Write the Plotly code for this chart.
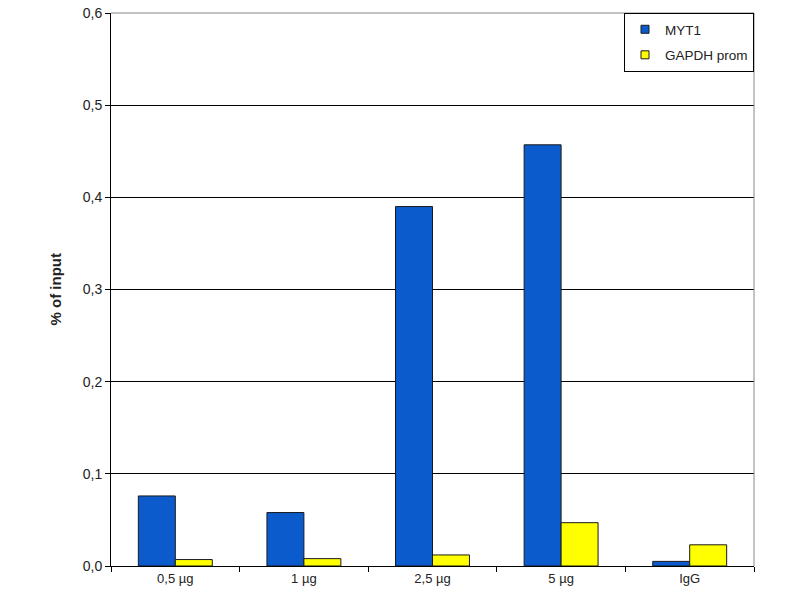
import plotly.graph_objects as go

categories = ["0,5 µg", "1 µg", "2,5 µg", "5 µg", "IgG"]
myt1 = [0.076, 0.058, 0.390, 0.457, 0.005]
gapdh = [0.007, 0.008, 0.012, 0.047, 0.023]
y_ticks = [0, 0.1, 0.2, 0.3, 0.4, 0.5, 0.6]
y_tick_labels = ["0,0", "0,1", "0,2", "0,3", "0,4", "0,5", "0,6"]
series_names = ["MYT1", "GAPDH prom"]
series_colors = ["#0b5bcc", "#ffff00"]

fig = go.Figure()
for name, vals, col in zip(series_names, [myt1, gapdh], series_colors):
    fig.add_trace(go.Bar(x=categories, y=vals, name=name, showlegend=False,
                         marker=dict(color=col, line=dict(color="#1a1a1a", width=1))))
# legend proxies with small square swatches
for name, col in zip(series_names, series_colors):
    fig.add_trace(go.Scatter(x=[None], y=[None], mode="markers", name=name,
                             legendgroup=name,
                             marker=dict(symbol="square", size=8, color=col,
                                         line=dict(color="#1a1a1a", width=1))))

fig.update_layout(
    width=800, height=600,
    paper_bgcolor="white", plot_bgcolor="white",
    margin=dict(l=111, r=46, t=13, b=34),
    barmode="group", bargap=0.425, bargroupgap=0,
    font=dict(family="Liberation Sans, Arial, sans-serif", size=13, color="#222"),
    showlegend=True,
    legend=dict(x=1, y=1, xanchor="right", yanchor="top",
                bordercolor="black", borderwidth=1, bgcolor="white",
                font=dict(size=13.5), tracegroupgap=5, itemwidth=30),
    xaxis=dict(type="category", showline=True, linecolor="black", linewidth=1,
               ticks="outside", tickson="boundaries", ticklen=5, tickcolor="black",
               showgrid=False, tickfont=dict(size=13), automargin=False),
    yaxis=dict(range=[0, 0.6], tickvals=y_ticks, ticktext=y_tick_labels,
               showline=True, linecolor="black", linewidth=1,
               ticks="outside", ticklen=5, tickcolor="black",
               showgrid=True, gridcolor="black", gridwidth=1, zeroline=False,
               tickfont=dict(size=14), automargin=False),
    annotations=[dict(text="<b>% of input</b>", xref="paper", yref="paper",
                      x=0, y=0.5, xshift=-56, textangle=-90, showarrow=False,
                      xanchor="center", yanchor="middle",
                      font=dict(size=15, color="#222"))],
)
fig.add_shape(type="line", xref="paper", yref="paper", x0=1, x1=1, y0=0, y1=1,
              line=dict(color="#888", width=1))
fig.add_shape(type="line", xref="paper", yref="paper", x0=0, x1=1, y0=1, y1=1,
              line=dict(color="#888", width=1))
fig.write_html("out.html", config={"displayModeBar": False},
               post_script="document.body.style.margin='0';document.body.style.padding='0';")
